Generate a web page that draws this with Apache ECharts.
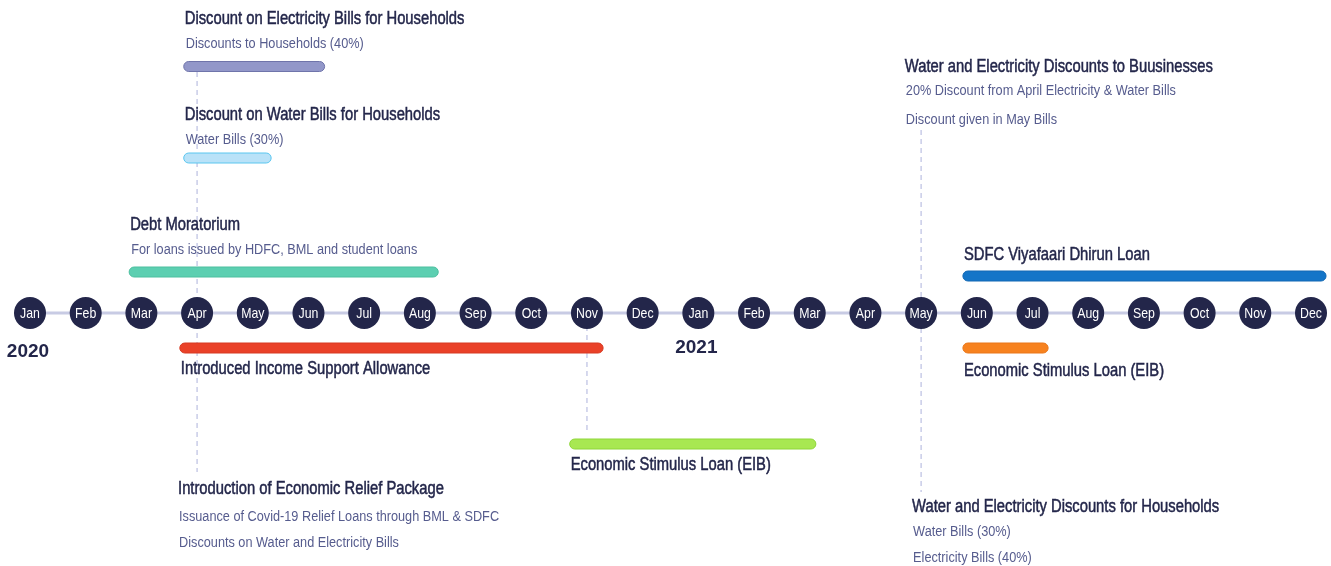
<!DOCTYPE html>
<html><head><meta charset="utf-8">
<script src="https://cdn.jsdelivr.net/npm/echarts@6/dist/echarts.min.js"></script>
<style>html,body{margin:0;padding:0;background:#fff}#c{width:1331px;height:566px}</style>
</head><body><div id="c"></div>
<script>
// ---- data ----
const monthNames = ['Jan','Feb','Mar','Apr','May','Jun','Jul','Aug','Sep','Oct','Nov','Dec',
                    'Jan','Feb','Mar','Apr','May','Jun','Jul','Aug','Sep','Oct','Nov','Dec'];
const yearLabels = ['2020','2021'];
const yearStartIndex = [0, 12];
const eventTitles = [
  'Discount on Electricity Bills for Households',
  'Discount on Water Bills for Households',
  'Debt Moratorium',
  'Introduced Income Support Allowance',
  'Economic Stimulus Loan (EIB)',
  'SDFC Viyafaari Dhirun Loan',
  'Economic Stimulus Loan (EIB)',
  'Introduction of Economic Relief Package',
  'Water and Electricity Discounts to Buusinesses',
  'Water and Electricity Discounts for Households'
];
const eventSubtitles = [
  ['Discounts to Households (40%)'],
  ['Water Bills (30%)'],
  ['For loans issued by HDFC, BML and student loans'],
  [],
  [],
  [],
  [],
  ['Issuance of Covid-19 Relief Loans through BML & SDFC', 'Discounts on Water and Electricity Bills'],
  ['20% Discount from April Electricity & Water Bills', 'Discount given in May Bills'],
  ['Water Bills (30%)', 'Electricity Bills (40%)']
];
// month index from Jan 2020 (0); fractional = part of month
const eventStart = [2.76, 2.76, 1.78, 2.69, 9.69, 16.75, 16.75, 2.64, 15.69, 15.82];
const eventEnd   = [5.29, 4.33, 7.33, 10.29, 14.11, 23.27, 18.28, null, null, null];
const connectorMonths = [3, 10, 16];

// ---- layout / style (not data) ----
const AXIS_Y = 313;
const eventLayout = [
  {bar: 66.5, title: 19, subs: [44], color: '#9297c9', border: '#6f74aa'},
  {bar: 158, title: 115, subs: [140], color: '#b9e2f8', border: '#5ac6ef'},
  {bar: 272, title: 225, subs: [250], color: '#5ccfb1', border: '#4cbf9f'},
  {bar: 348, title: 369, subs: [], color: '#ea4128', border: '#d63a22'},
  {bar: 444, title: 465, subs: [], color: '#a8e852', border: '#8fd63a'},
  {bar: 276, title: 255, subs: [], color: '#1475c8', border: '#1268b4'},
  {bar: 348, title: 371, subs: [], color: '#f7821f', border: '#e9771a'},
  {bar: null, title: 489, subs: [517, 543]},
  {bar: null, title: 67, subs: [91, 120]},
  {bar: null, title: 507, subs: [532, 558]}
];
const connectorLayout = [[72, 472], [326, 434], [130, 492]];
const yearY = [352, 348];
const NAVY = '#23264a', SUB = '#565c8e';
const FONT = '"Liberation Sans", Arial, sans-serif';
const NARROW = 0.82;

const chart = echarts.init(document.getElementById('c'), null, {renderer: 'canvas'});

const eventData = eventTitles.map((t, i) => [eventStart[i], eventEnd[i] == null ? eventStart[i] : eventEnd[i], i]);

const option = {
  animation: false,
  grid: {left: 30, right: 20, top: 0, bottom: 0},
  xAxis: {type: 'value', min: 0, max: 23, show: false},
  yAxis: {type: 'value', min: 0, max: 566, inverse: true, show: false},
  series: [
    { // timeline axis line
      type: 'line', silent: true, symbol: 'none', clip: false, z: 1,
      lineStyle: {color: '#c8cbe4', width: 3},
      data: [[-0.27, AXIS_Y], [monthNames.length - 1 + 0.25, AXIS_Y]]
    },
    { // dashed connectors
      type: 'custom', clip: false, z: 0,
      data: connectorMonths.map((m, i) => [m, i]),
      renderItem: (params, api) => {
        const i = api.value(1);
        const p1 = api.coord([api.value(0), connectorLayout[i][0]]);
        const p2 = api.coord([api.value(0), connectorLayout[i][1]]);
        return {type: 'line', shape: {x1: p1[0], y1: p1[1], x2: p2[0], y2: p2[1]},
          style: {stroke: '#c9cce8', lineWidth: 1.5, lineDash: [5, 4]}};
      }
    },
    { // month circles
      type: 'custom', clip: false, z: 3,
      data: monthNames.map((m, i) => [i, AXIS_Y]),
      renderItem: (params, api) => {
        const p = api.coord([api.value(0), api.value(1)]);
        return {type: 'group', children: [
          {type: 'circle', shape: {cx: p[0], cy: p[1], r: 16}, style: {fill: NAVY}},
          {type: 'text', x: p[0], y: p[1] + 0.5, scaleX: NARROW,
            style: {text: monthNames[params.dataIndex], fill: '#fff', font: '15px ' + FONT,
              textAlign: 'center', textVerticalAlign: 'middle'}}
        ]};
      }
    },
    { // years
      type: 'custom', clip: false, z: 3,
      data: yearLabels.map((y, i) => [yearStartIndex[i], i]),
      renderItem: (params, api) => {
        const i = api.value(1);
        const p = api.coord([api.value(0), yearY[i]]);
        return {type: 'text', x: p[0] - 2, y: p[1],
          style: {text: yearLabels[i], fill: NAVY, font: 'bold 19px ' + FONT,
            textAlign: 'center', textVerticalAlign: 'middle'}};
      }
    },
    { // events
      type: 'custom', clip: false, z: 4,
      data: eventData,
      renderItem: (params, api) => {
        const i = api.value(2);
        const L = eventLayout[i];
        const children = [];
        const s = api.coord([api.value(0), L.bar == null ? L.title : L.bar]);
        if (L.bar != null) {
          const e = api.coord([api.value(1), L.bar]);
          children.push({type: 'rect', shape: {x: s[0], y: s[1] - 5, width: e[0] - s[0], height: 10, r: 5},
            style: {fill: L.color, stroke: L.border, lineWidth: 1}});
        }
        const tx = s[0] + 1;
        const tp = api.coord([api.value(0), L.title]);
        children.push({type: 'text', x: tx, y: tp[1], scaleX: NARROW,
          style: {text: eventTitles[i], fill: NAVY, font: '18px ' + FONT, textVerticalAlign: 'middle',
            stroke: NAVY, lineWidth: 0.5}});
        eventSubtitles[i].forEach((st, k) => {
          const sp = api.coord([api.value(0), L.subs[k]]);
          children.push({type: 'text', x: tx + 1, y: sp[1], scaleX: NARROW,
            style: {text: st, fill: SUB, font: '15.5px ' + FONT, textVerticalAlign: 'middle'}});
        });
        return {type: 'group', children};
      }
    }
  ]
};
chart.setOption(option);
</script>
</body></html>
